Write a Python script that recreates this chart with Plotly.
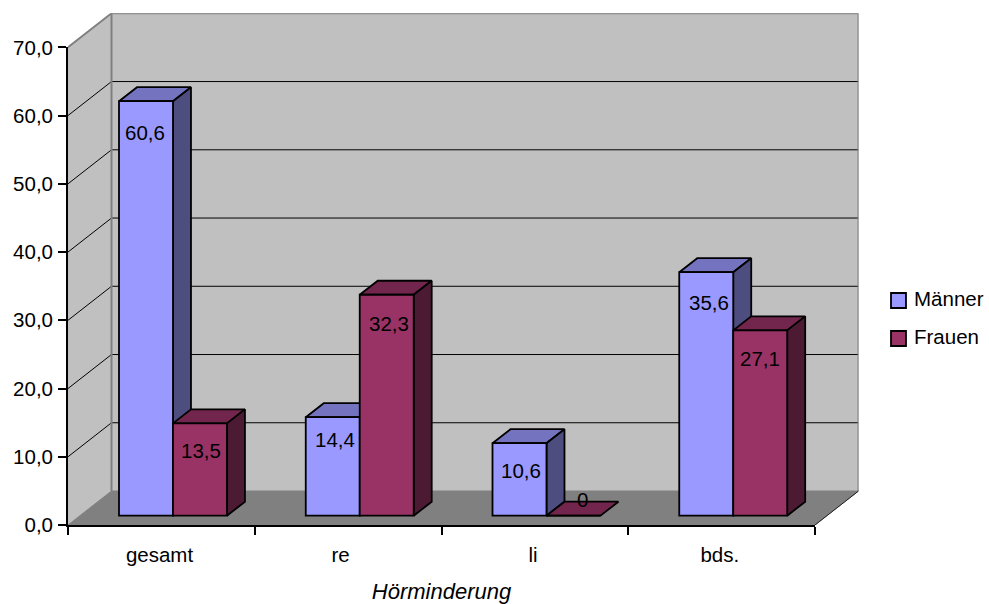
import plotly.graph_objects as go

# Hearing-loss shares by side, split by sex
categories = ["gesamt", "re", "li", "bds."]
maenner = [60.6, 14.4, 10.6, 35.6]
frauen = [13.5, 32.3, 0, 27.1]
y_ticks = [0, 10, 20, 30, 40, 50, 60, 70]

# Offsets of each value label from the bar's top centre, in pixels
maenner_label_drop = [31, 22, 27, 30]
frauen_label_drop = [27, 29, -16, 28]
maenner_label_shift = [-1, 2, 2, 3]
frauen_label_shift = [1, 2, 9, 0]

W, H = 989, 604
FONT = "Liberation Sans, Arial, sans-serif"
FS = 20.5

BLUE = ("#9999FF", "#7373BF", "#4D4D80")      # front, top, side
WINE = ("#993366", "#73264D", "#4D1A33")
WALL = "#C0C0C0"
FLOOR = "#808080"

CAT_PX = 186.75      # width of one category
VAL_PX = 6.824       # pixels per unit on the value axis
BAR_VAL_PX = 6.84    # same, for the bars standing mid-floor
ROOM_DX, ROOM_DY = 43.5, 34     # depth of the box
BAR_DX, BAR_DY = 18, 14         # depth of a bar
BAR_W = 0.289
EDGE = 1.8


def xdom(a, b):
    return [a / W, b / W]


def ydom(bottom, top):
    return [(H - bottom) / H, (H - top) / H]


fig = go.Figure()

# Room: left wall, back wall, floor and grid on the xy axes
rdx, rdy = ROOM_DX / CAT_PX, ROOM_DY / VAL_PX
x_end = 4.0


def poly(xs, ys, fill, line, width, xa, ya):
    fig.add_trace(go.Scatter(
        x=xs, y=ys, xaxis=xa, yaxis=ya, mode="lines", fill="toself",
        fillcolor=fill, line=dict(color=line, width=width),
        hoverinfo="skip", showlegend=False, cliponaxis=False))


def seg(xs, ys, color, width):
    fig.add_trace(go.Scatter(
        x=xs, y=ys, xaxis="x", yaxis="y", mode="lines",
        line=dict(color=color, width=width),
        hoverinfo="skip", showlegend=False, cliponaxis=False))


top = y_ticks[-1]
poly([0, rdx, rdx, 0, 0], [0, rdy, top + rdy, top, 0], WALL, WALL, 1, "x", "y")
poly([rdx, x_end + rdx, x_end + rdx, rdx, rdx],
     [rdy, rdy, top + rdy, top + rdy, rdy], WALL, WALL, 1, "x", "y")
poly([0, x_end, x_end + rdx, rdx, 0], [0, 0, rdy, rdy, 0], FLOOR, FLOOR, 1, "x", "y")

for v in y_ticks[1:-1]:
    seg([0, rdx, x_end + rdx], [v, v + rdy, v + rdy], "#000000", 1)

seg([0, rdx, x_end + rdx, x_end + rdx],
    [top, top + rdy, top + rdy, rdy], FLOOR, 2)
seg([rdx, rdx], [rdy, top + rdy], FLOOR, 2)
seg([x_end, x_end + rdx], [0, rdy], "#202020", 1)

# Bar tops and sides on x2/y2, painted left to right
bdx, bdy = BAR_DX / CAT_PX, BAR_DY / BAR_VAL_PX
for i in range(len(categories)):
    c = i + 0.5
    for value, left, shades in ((maenner[i], c - BAR_W, BLUE), (frauen[i], c, WINE)):
        right = left + BAR_W
        poly([left, right, right + bdx, left + bdx, left],
             [value, value, value + bdy, value + bdy, value],
             shades[1], "#000000", EDGE, "x2", "y2")
        if value > 0:
            poly([right, right + bdx, right + bdx, right, right],
                 [0, bdy, value + bdy, value, 0],
                 shades[2], "#000000", EDGE, "x2", "y2")

# Bar fronts on x3/y3, above every depth face
centres = [i + 0.5 for i in range(len(categories))]
for name, values, shades in (("Männer", maenner, BLUE), ("Frauen", frauen, WINE)):
    fig.add_trace(go.Bar(
        x=centres, y=values, name=name, xaxis="x3", yaxis="y3",
        marker=dict(color=shades[0], line=dict(color="#000000", width=EDGE)),
        hoverinfo="skip", showlegend=False, cliponaxis=False))

# Carrier for the visible axes
fig.add_trace(go.Scatter(x=[None], y=[None], xaxis="x4", yaxis="y4",
                         mode="markers", showlegend=False, hoverinfo="skip"))

annotations = []


def fmt(v):
    return f"{v:.1f}".replace(".", ",") if v else "0"


for i in range(len(categories)):
    for values, drops, shifts, offs in (
            (maenner, maenner_label_drop, maenner_label_shift, -BAR_W / 2),
            (frauen, frauen_label_drop, frauen_label_shift, BAR_W / 2)):
        annotations.append(dict(
            x=centres[i] + offs, y=values[i], xref="x3", yref="y3",
            text=fmt(values[i]), showarrow=False,
            yshift=-drops[i], xshift=shifts[i],
            font=dict(family=FONT, size=FS, color="#000000")))

# Key at the right
shapes = []
for name, colour, y0 in (("Männer", BLUE[0], 293), ("Frauen", WINE[0], 331)):
    shapes.append(dict(type="rect", xref="paper", yref="paper",
                       x0=891 / W, x1=906 / W, y0=(H - y0) / H, y1=(H - y0 - 15) / H,
                       fillcolor=colour, line=dict(color="#000000", width=EDGE)))
    annotations.append(dict(x=912 / W, y=(H - y0 - 5) / H, xref="paper", yref="paper",
                            xanchor="left", yanchor="middle", text=name, showarrow=False,
                            font=dict(family=FONT, size=FS, color="#000000")))

hidden = dict(visible=False, fixedrange=True, automargin=False)
room_x = dict(hidden, domain=xdom(68, 68 + 4 * CAT_PX + ROOM_DX), range=[0, 4 + rdx])
room_y = dict(hidden, domain=ydom(525, 525 - (top + rdy) * VAL_PX), range=[0, top + rdy])
bar_x = dict(hidden, domain=xdom(79.6, 79.6 + 4 * CAT_PX), range=[0, 4])
bar_y = dict(hidden, domain=ydom(515.7 + 2 * BAR_VAL_PX, 515.7 - 70 * BAR_VAL_PX), range=[-2, 70])

fig.update_layout(
    width=W, height=H, autosize=False,
    margin=dict(l=0, r=0, t=0, b=0),
    paper_bgcolor="#FFFFFF", plot_bgcolor="rgba(0,0,0,0)",
    barmode="group", bargap=1 - 2 * BAR_W, bargroupgap=0,
    separators=",.", showlegend=False,
    font=dict(family=FONT, size=FS, color="#000000"),
    xaxis=room_x, yaxis=room_y,
    xaxis2=dict(bar_x, anchor="y2"), yaxis2=dict(bar_y, anchor="x2"),
    xaxis3=dict(bar_x, anchor="y3"), yaxis3=dict(bar_y, anchor="x3"),
    xaxis4=dict(
        domain=xdom(68, 68 + 4 * CAT_PX), range=[0, 4], anchor="y4",
        automargin=False,
        showgrid=False, zeroline=False, showline=True,
        linecolor="#000000", linewidth=EDGE,
        tickmode="array", tickvals=[0.49, 1.46, 2.49, 3.49], ticktext=categories,
        ticks="", ticklabelstandoff=10,
        minor=dict(tickmode="array", tickvals=[0, 1, 2, 3, 4], ticks="outside",
                   ticklen=8, tickwidth=EDGE, tickcolor="#000000", showgrid=False),
        tickfont=dict(family=FONT, size=FS),
        title=dict(text="<i>Hörminderung</i>", standoff=20,
                   font=dict(family=FONT, size=22)),
        fixedrange=True),
    yaxis4=dict(
        domain=ydom(525, 525 - 70 * VAL_PX), range=[0, 70], anchor="x4",
        automargin=False,
        showgrid=False, zeroline=False, showline=True,
        linecolor="#000000", linewidth=EDGE,
        tickmode="array", tickvals=y_ticks, tickformat=".1f",
        ticks="outside", ticklen=8, tickwidth=EDGE, tickcolor="#000000",
        ticklabelstandoff=1,
        tickfont=dict(family=FONT, size=FS), fixedrange=True),
    annotations=annotations, shapes=shapes,
)

fig.write_html("out.html", config={"displayModeBar": False})
